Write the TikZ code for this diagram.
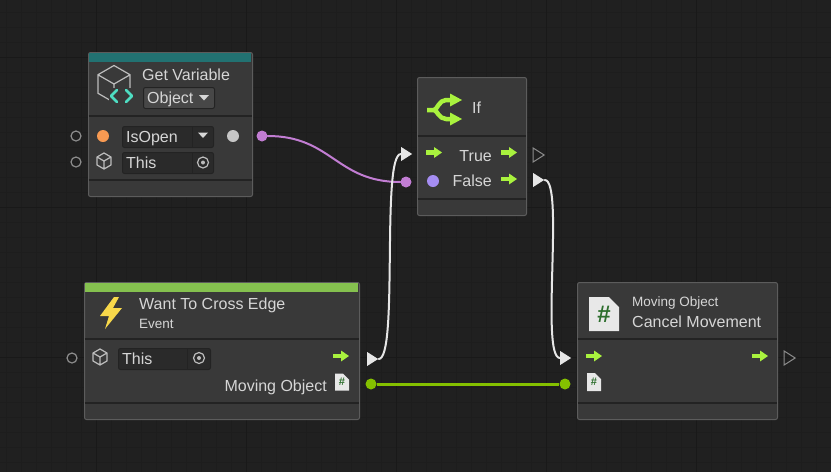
\documentclass[tikz,border=0pt]{standalone}
\usepackage{fontspec}
\setmainfont{Liberation Sans}
\usetikzlibrary{shapes.geometric,shapes.misc}
\definecolor{canvas}{HTML}{202020}
\definecolor{gridmajor}{HTML}{191919}
\definecolor{gridminor}{HTML}{1D1D1D}
\definecolor{panelbg}{HTML}{393939}
\definecolor{panelline}{HTML}{5C5C5C}
\definecolor{sepline}{HTML}{232323}
\definecolor{fieldbg}{HTML}{2A2A2A}
\definecolor{dropbg}{HTML}{474747}
\definecolor{txt}{HTML}{D6D6D6}
\definecolor{tealbar}{HTML}{227272}
\definecolor{greenbar}{HTML}{85C14F}
\definecolor{portgray}{HTML}{8C8C8C}
\definecolor{iconline}{HTML}{BDBDBD}
\definecolor{codeteal}{HTML}{4EDDC2}
\definecolor{keyorange}{HTML}{F89A52}
\definecolor{dotgray}{HTML}{C6C6C6}
\definecolor{wirepurple}{HTML}{C27DD3}
\definecolor{boolpurple}{HTML}{A58DF2}
\definecolor{flowgreen}{HTML}{A9F23E}
\definecolor{datagreen}{HTML}{84C000}
\definecolor{flowwhite}{HTML}{E6E6E6}
\definecolor{boltyellow}{HTML}{F8D84A}
\definecolor{docfill}{HTML}{E8E8E8}
\definecolor{hashgreen}{HTML}{2C6E2C}
\begin{document}
\begin{tikzpicture}
[x=1pt,y=-1pt,
panel/.style={draw=panelline,fill=panelbg,line width=1pt,rounded corners=2pt,inner sep=0pt,anchor=north west},
field/.style={draw=sepline,fill=fieldbg,line width=1pt,rounded corners=2pt,inner sep=0pt,anchor=north west,minimum width=91pt,minimum height=21pt},
lbl/.style={text=txt,font=\fontsize{16}{18}\selectfont,inner sep=0pt,text height=11.3pt,text depth=0pt,anchor=west},
sublbl/.style={lbl,font=\fontsize{13.5}{16}\selectfont,text height=9.6pt},
openport/.style={circle,draw=portgray,line width=1.2pt,minimum size=10pt,inner sep=0pt},
dot/.style={circle,fill=#1,minimum size=12pt,inner sep=0pt},
port/.style={circle,fill=#1,minimum size=11pt,inner sep=0pt},
flowport/.style={isosceles triangle,isosceles triangle stretches,minimum width=14pt,minimum height=11pt,inner sep=0pt,fill=flowwhite},
openflow/.style={flowport,fill=none,draw=portgray,line width=1pt},
docicon/.style={chamfered rectangle,chamfered rectangle corners=north east,chamfered rectangle sep=#1,fill=docfill,text=hashgreen,inner sep=0pt},
flowarrow/.pic={\fill[flowgreen] (-8,-2.2) rectangle (1,2.2); \fill[flowgreen] (0,-5.5) -- (8,0) -- (0,5.5) -- cycle;},
cube/.pic={\draw[iconline,line width=1.2pt,line join=round] (0,-10) -- (8.7,-5) -- (8.7,5) -- (0,10) -- (-8.7,5) -- (-8.7,-5) -- cycle (-8.7,-5) -- (0,0) -- (8.7,-5) (0,0) -- (0,10);},
target/.pic={\draw[iconline,line width=1.2pt] (0,0) circle[radius=5.5pt]; \fill[iconline] (0,0) circle[radius=2pt];},
wire/.style={line width=2pt,line cap=round}]
\useasboundingbox (0,0) rectangle (831,472);
\fill[canvas] (0,0) rectangle (831,472);
\foreach \x in {6,21,...,831} \draw[gridminor,line width=0.6pt] (\x,0) -- (\x,472);
\foreach \y in {12,27,...,472} \draw[gridminor,line width=0.6pt] (0,\y) -- (831,\y);
\foreach \x in {96,246,...,831} \draw[gridmajor,line width=1pt] (\x,0) -- (\x,472);
\foreach \y in {57,207,357} \draw[gridmajor,line width=1pt] (0,\y) -- (831,\y);

\node (getvar) at (88,52) [panel,minimum width=164pt,minimum height=144pt] {};
\fill[tealbar] (89,53) rectangle (251,62);
\draw[sepline,line width=1.5pt] (88.5,116) -- (251.5,116) (88.5,180) -- (251.5,180);
\pic[scale=1.85] at (114,84) {cube};
\fill[panelbg] (109,88) rectangle (136,106);
\draw[codeteal,line width=2.6pt,line cap=round,line join=round] (117,90) -- (111,96) -- (117,102) (126,90) -- (132,96) -- (126,102);
\node (gvtitle) at (142,75) [lbl] {Get Variable};
\node (gvtype) at (143,87) [field,fill=dropbg,minimum width=71pt] {};
\node (gvtypetext) at (147,97.5) [lbl] {Object};
\fill[txt] (199,95) -- (209,95) -- (204,100.5) -- cycle;
\node (gvkeyin) at (76,136) [openport] {};
\node (gvobjin) at (76,162) [openport] {};
\node (gvkey) at (103,136) [dot=keyorange] {};
\node (gvname) at (122,126) [field] {};
\draw[sepline] (192,126) -- (192,147);
\node (gvnametext) at (126,137) [lbl] {IsOpen};
\fill[txt] (198,132.5) -- (208,132.5) -- (203,138) -- cycle;
\pic[scale=0.8] at (104,161) {cube};
\node (gvobj) at (122,152) [field] {};
\draw[sepline] (192,152) -- (192,173);
\node (gvobjtext) at (126,162.5) [lbl] {This};
\pic at (203,162.5) {target};
\node (gvvalue) at (233,136) [dot=dotgray] {};
\node (gvout) at (262,136) [port=wirepurple] {};

\node (ifnode) at (417,77) [panel,minimum width=109pt,minimum height=138pt] {};
\draw[sepline,line width=1.5pt] (417.5,136) -- (525.5,136) (417.5,199) -- (525.5,199);
\draw[flowgreen,line width=4.5pt,line join=round] (427,110) -- (434,110) .. controls (437,110) and (439,100) .. (446,100) -- (453,100) (434,110) .. controls (437,110) and (439,119) .. (446,119) -- (453,119);
\fill[flowgreen] (450,93.5) -- (462,100) -- (450,106.5) -- cycle (450,112.5) -- (462,119) -- (450,125.5) -- cycle;
\node (iftitle) at (472,108) [lbl] {If};
\pic at (434,152.5) {flowarrow};
\node (iftruetext) at (492,155.5) [lbl,anchor=east] {True};
\pic at (509,152.5) {flowarrow};
\node (ifbool) at (433,181) [dot=boolpurple] {};
\node (iffalsetext) at (492,181) [lbl,anchor=east] {False};
\pic at (509,179) {flowarrow};
\node (iftrue) at (405,154) [flowport] {};
\node (ifcond) at (406,182) [port=wirepurple] {};
\node (ifyes) at (537,155) [openflow] {};
\node (ifno) at (537,180) [flowport] {};

\node (want) at (84,282) [panel,minimum width=275pt,minimum height=137pt] {};
\fill[greenbar] (85,283) rectangle (358,292);
\draw[sepline,line width=1.5pt] (84.5,339) -- (358.5,339) (84.5,403) -- (358.5,403);
\fill[boltyellow] (114,297) -- (100,316) -- (109,316) -- (105,329) -- (122,308) -- (113,308) -- (119,297) -- cycle;
\node (wanttitle) at (139,304) [lbl] {Want To Cross Edge};
\node (wantkind) at (139,324) [sublbl] {Event};
\node (wantobjin) at (72,358) [openport] {};
\pic[scale=0.8] at (100,357) {cube};
\node (wantobj) at (118,348) [field,minimum width=92pt] {};
\draw[sepline] (187,348) -- (187,369);
\node (wantobjtext) at (122,359) [lbl] {This};
\pic at (199,358) {target};
\pic at (341,356) {flowarrow};
\node (wantout) at (371,359) [flowport] {};
\node (wantdatatext) at (327,386) [lbl,anchor=east] {Moving Object};
\node (wantdoc) at (342,382) [docicon=3pt,minimum width=14pt,minimum height=17pt,font=\bfseries\fontsize{11}{11}\selectfont] {\#};
\node (wantdata) at (371,384) [port=datagreen] {};

\node (cancel) at (577,282) [panel,minimum width=200pt,minimum height=137pt] {};
\draw[sepline,line width=1.5pt] (577.5,339) -- (776.5,339) (577.5,403) -- (776.5,403);
\node (canceldoc) at (604,314) [docicon=5pt,minimum width=30pt,minimum height=34pt,font=\bfseries\fontsize{24}{24}\selectfont] {\#};
\node (cancelsub) at (632,302) [sublbl] {Moving Object};
\node (canceltitle) at (632,322) [lbl] {Cancel Movement};
\pic at (594,356) {flowarrow};
\pic at (760,356) {flowarrow};
\node (cancelnext) at (788,358) [openflow] {};
\node (cancelin) at (564,358) [flowport] {};
\node (canceldatadoc) at (594,382) [docicon=3pt,minimum width=14pt,minimum height=18pt,font=\bfseries\fontsize{11}{11}\selectfont] {\#};
\node (canceldata) at (565,384) [port=datagreen] {};

\draw[wire,wirepurple] (gvout) .. controls +(70,0) and +(-70,0) .. (ifcond);
\draw[wire,flowwhite] (wantout.east) .. controls +(20,0) and +(-20,0) .. (iftrue.west);
\draw[wire,flowwhite] (ifno.east) .. controls +(20,0) and +(-20,0) .. (cancelin.west);
\draw[datagreen,line width=3pt] (wantdata) -- (canceldata);
\end{tikzpicture}
\end{document}
